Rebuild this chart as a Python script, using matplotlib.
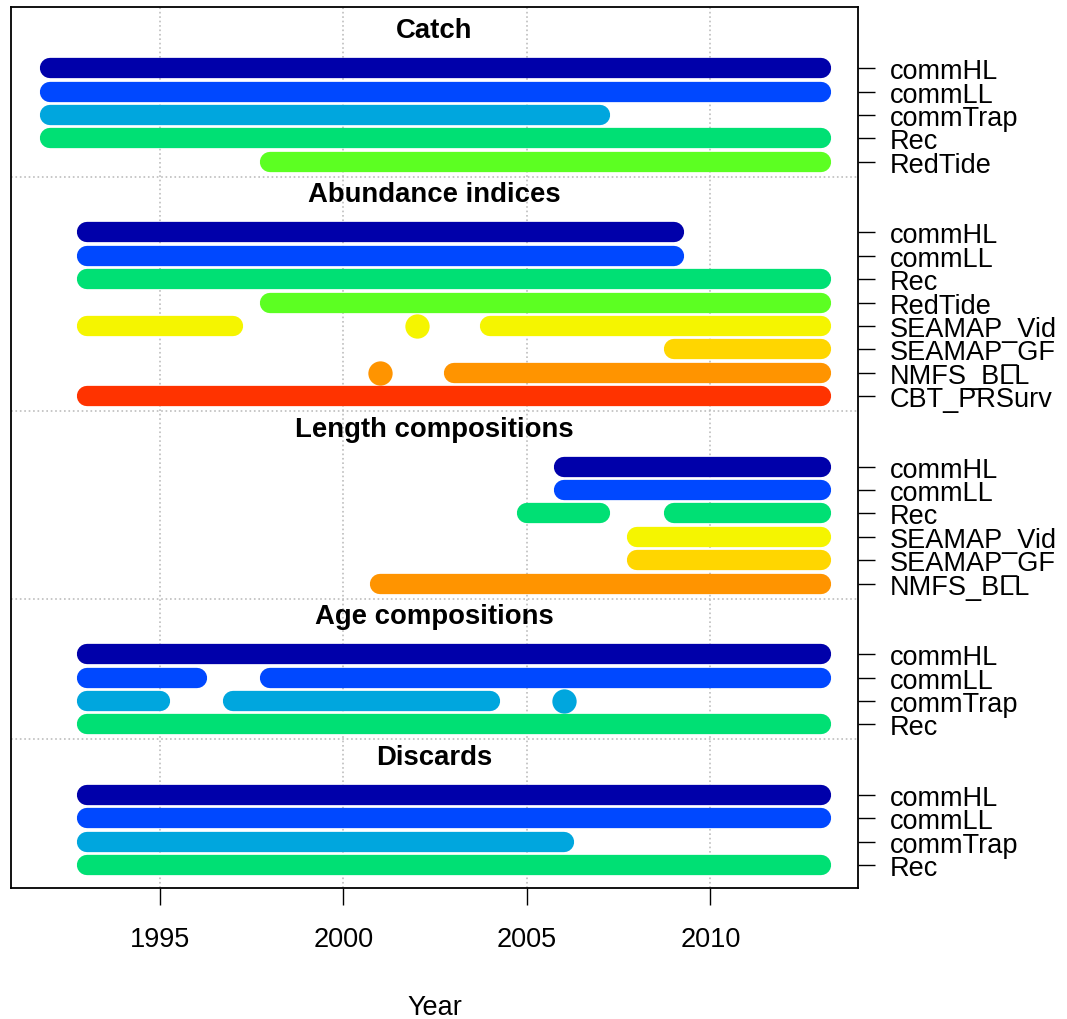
# Data availability by type and fleet

import matplotlib.pyplot as plt
from matplotlib.transforms import blended_transform_factory

plt.rcParams['font.family'] = ['Liberation Sans', 'DejaVu Sans']

# fleet colours
fleet_colors = {
    'commHL': '#0000AA',
    'commLL': '#0048FF',
    'commTrap': '#00A6DE',
    'Rec': '#00E074',
    'RedTide': '#5CFF22',
    'SEAMAP_Vid': '#F5F500',
    'SEAMAP_GF': '#FFD600',
    'NMFS_BLL': '#FF9400',
    'CBT_PRSurv': '#FF3300',
}

# year segments (start, end) per fleet, one dict per data type
catch = {
    'commHL': [(1992, 2013)],
    'commLL': [(1992, 2013)],
    'commTrap': [(1992, 2007)],
    'Rec': [(1992, 2013)],
    'RedTide': [(1998, 2013)],
}
abundance = {
    'commHL': [(1993, 2009)],
    'commLL': [(1993, 2009)],
    'Rec': [(1993, 2013)],
    'RedTide': [(1998, 2013)],
    'SEAMAP_Vid': [(1993, 1997), (2002, 2002), (2004, 2013)],
    'SEAMAP_GF': [(2009, 2013)],
    'NMFS_BLL': [(2001, 2001), (2003, 2013)],
    'CBT_PRSurv': [(1993, 2013)],
}
lencomp = {
    'commHL': [(2006, 2013)],
    'commLL': [(2006, 2013)],
    'Rec': [(2005, 2007), (2009, 2013)],
    'SEAMAP_Vid': [(2008, 2013)],
    'SEAMAP_GF': [(2008, 2013)],
    'NMFS_BLL': [(2001, 2013)],
}
agecomp = {
    'commHL': [(1993, 2013)],
    'commLL': [(1993, 1996), (1998, 2013)],
    'commTrap': [(1993, 1995), (1997, 2004), (2006, 2006)],
    'Rec': [(1993, 2013)],
}
discards = {
    'commHL': [(1993, 2013)],
    'commLL': [(1993, 2013)],
    'commTrap': [(1993, 2006)],
    'Rec': [(1993, 2013)],
}

sections = [
    ('Catch', catch),
    ('Abundance indices', abundance),
    ('Length compositions', lencomp),
    ('Age compositions', agecomp),
    ('Discards', discards),
]

fig = plt.figure(figsize=(10.67, 10.20), dpi=100)
ax = fig.add_axes([0.0103, 0.1284, 0.7938, 0.8636])
trans = blended_transform_factory(ax.transAxes, ax.transData)

yticks = []
ylabels = []
y = 0
for i, (title, data) in enumerate(sections):
    if i > 0:
        y += 2
        ax.axhline(y - 2.36, color='#BEBEBE', lw=1.2, ls=':', zorder=1)
    ax.text(0.5, y - 1.62, title, transform=trans, ha='center', va='center',
            fontsize=19.8, fontweight='bold')
    for fleet, segs in data.items():
        col = fleet_colors[fleet]
        for a, b in segs:
            if a == b:
                ax.plot([a], [y], 'o', color=col, ms=17.5, mew=0, zorder=3)
            else:
                ax.plot([a, b], [y, y], color=col, lw=14.6,
                        solid_capstyle='round', zorder=3)
        yticks.append(y)
        ylabels.append(fleet)
        y += 1
last = y - 1

ax.set_xlim(1990.94, 2014.02)
ax.set_ylim(last + 0.98, -2.6)

for yr in [1995, 2000, 2005, 2010]:
    ax.axvline(yr, color='#BEBEBE', lw=1.2, ls=':', zorder=1)

ax.set_xticks([1995, 2000, 2005, 2010])
ax.tick_params(axis='x', length=12, width=1, pad=15, labelsize=19.5)
ax.yaxis.tick_right()
ax.set_yticks(yticks)
ax.set_yticklabels(ylabels)
ax.tick_params(axis='y', length=12, width=1, pad=11, labelsize=19.5)

ax.set_xlabel('Year', fontsize=19.5, va='center')
ax.xaxis.set_label_coords(0.5, -0.135)

for s in ax.spines.values():
    s.set_linewidth(1.3)

fig.savefig('out.png', dpi=100)
